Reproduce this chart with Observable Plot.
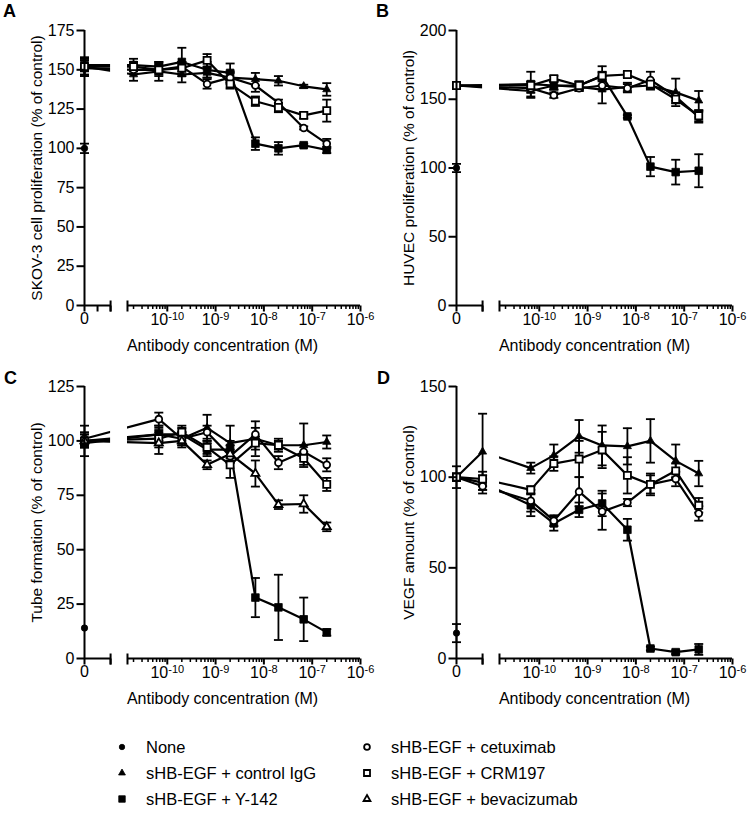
<!DOCTYPE html>
<html><head><meta charset="utf-8">
<script src="https://cdn.jsdelivr.net/npm/d3@7"></script>
<script src="https://cdn.jsdelivr.net/npm/@observablehq/plot@0.6"></script>
<style>
body{margin:0;background:#fff;font-family:"Liberation Sans",Arial,Helvetica,sans-serif;}
#wrap{position:relative;width:747px;height:814px;overflow:hidden;background:#fff;}
.panel{position:absolute;}
.letter{position:absolute;font-weight:bold;font-size:18px;line-height:18px;color:#000;}
.leg{position:absolute;font-size:16.5px;line-height:18px;color:#000;white-space:nowrap;}
.leg svg{position:absolute;overflow:visible;}
</style></head><body><div id="wrap"></div>
<script>
// ---------------- data ----------------
const concA = [2e-11, 6.67e-11, 2e-10, 6.67e-10, 2e-9, 6.67e-9, 2e-8, 6.67e-8, 2e-7];
const concBCD = [6.67e-11, 2e-10, 6.67e-10, 2e-9, 6.67e-9, 2e-8, 6.67e-8, 2e-7];
const lowDoseD = 1e-12; // extra point at end of the linear (zero) segment in panel D

const seriesLabels = {
  none: "None", igg: "sHB-EGF + control IgG", y142: "sHB-EGF + Y-142",
  cetux: "sHB-EGF + cetuximab", crm: "sHB-EGF + CRM197", bev: "sHB-EGF + bevacizumab"
};

// Panel A: SKOV-3 proliferation
const A_zero = {none: [100, 3], igg: [152, 5], y142: [153, 4], cetux: [151, 5], crm: [152, 6]};
const A_igg = [147, 149, 147, 148, 145, 144, 143, 139.5, 137.5];
const A_igg_sd = [4, 6, 5, 3, 4, 4, 3, 1, 4];
const A_y142 = [153, 152, 155, 150, 148, 103, 100, 102, 99];
const A_y142_sd = [4, 3, 9, 5, 6, 4, 4, 1, 2];
const A_crm = [152, 150, 151, 156, 141, 130, 126, 121, 124];
const A_crm_sd = [3, 4, 4, 4, 3, 3, 3, 2, 7];
const A_cetux = [150, 150, 152, 141, 145, 140, 129, 113, 103];
const A_cetux_sd = [3, 3, 3, 3, 3, 4, 2, 1, 3];

// Panel B: HUVEC proliferation
const B_zero = {none: [100, 3], igg: [160, 2], y142: [160, 2], cetux: [160, 2], crm: [160, 2]};
const B_igg = [156, 160, 159, 157, 159, 160, 155, 149];
const B_igg_sd = [5, 3, 3, 10, 3, 3, 10, 7];
const B_y142 = [161, 160, 160, 167, 137.5, 101, 97, 98];
const B_y142_sd = [9, 3, 3, 7, 1, 7, 9, 12];
const B_crm = [160, 165, 160, 167, 168, 161, 150, 138];
const B_crm_sd = [3, 2, 3, 3, 2, 3, 3, 4];
const B_cetux = [158, 153, 158, 160, 158, 164, 152, 137];
const B_cetux_sd = [3, 2, 2, 3, 3, 6, 3, 4];

// Panel C: tube formation
const C_zero = {none: [14, 0], igg: [100, 7], y142: [99, 2], cetux: [101, 3], crm: [100, 3], bev: [100, 3]};
const C_igg = [103, 101, 106, 99, 101, 98, 98, 99.5];
const C_igg_sd = [4, 3, 6, 8, 8, 2, 10, 3];
const C_y142 = [103, 103, 96, 96, 28, 23.5, 18, 12];
const C_y142_sd = [3, 3, 3, 4, 9, 15, 10, 1.5];
const C_cetux = [110, 101, 104, 93, 103, 90, 95, 89];
const C_cetux_sd = [3, 3, 3, 3, 3, 3, 3, 3];
const C_crm = [101, 104, 97, 89, 99, 98, 92, 80];
const C_crm_sd = [4, 3, 3, 6, 3, 3, 3, 3];
const C_bev = [99, 100, 89, 94, 85, 70.7, 71, 60.5];
const C_bev_sd = [5, 3, 2, 4, 6, 2, 4, 2];

// Panel D: VEGF amount
const D_zero = {none: [14, 5], igg: [100, 2], y142: [100, 6], cetux: [100, 2], crm: [100, 2]};
const D_low = {igg: [114, 21], y142: [97, 4], cetux: [95, 4], crm: [99, 4]};
const D_igg = [105, 112, 122.5, 117.5, 117, 120, 109, 102];
const D_igg_sd = [3, 6, 9, 11, 10, 12, 9, 7];
const D_crm = [93, 107.5, 110, 115, 101, 96, 103.5, 84.5];
const D_crm_sd = [2, 4, 10, 10, 10, 5, 4, 4];
const D_cetux = [87, 76, 92, 81, 86, 96, 99, 80];
const D_cetux_sd = [6, 3, 8, 10, 2, 6, 4, 4];
const D_y142 = [84.5, 74.5, 82, 85.5, 71, 5.5, 3.5, 5];
const D_y142_sd = [6, 4, 4, 7, 6, 1, 1, 3];

const yTicksA = [0, 25, 50, 75, 100, 125, 150, 175];
const yTicksB = [0, 50, 100, 150, 200];
const yTicksC = [0, 25, 50, 75, 100, 125];
const yTicksD = [0, 50, 100, 150];
const decadeExps = [-10, -9, -8, -7, -6];
const xTitle = "Antibody concentration (M)";

// ---------------- broken x axis (linear 0..LEFT_MAX | gap | log RIGHT_MIN..RIGHT_MAX) ----------------
const LEFT_MAX = 1e-12, RIGHT_MIN = 1.5e-11, RIGHT_MAX = 1e-6;
const LEFT_SPAN = 0.54, GAP = 0.35; // axis length expressed in decades
const UR = Math.log10(RIGHT_MIN);
const UL = UR - GAP;
const U0 = UL - LEFT_SPAN;
function xu(c) { return c <= LEFT_MAX ? U0 + (c / LEFT_MAX) * LEFT_SPAN : Math.log10(c); }

const minorTicks = [];
for (let e = -11; e <= -7; e++) for (let k = 2; k <= 9; k++) {
  const c = k * Math.pow(10, e);
  if (c > RIGHT_MIN && c < RIGHT_MAX) minorTicks.push(xu(c));
}
const majorTicks = decadeExps.map(e => e);

function buildRows(conc, zero, low, series) {
  const rows = [{s: "none", u: xu(0), v: zero.none[0], sd: zero.none[1]}];
  for (const [name, vals, sds] of series) {
    rows.push({s: name, u: xu(0), v: zero[name][0], sd: zero[name][1]});
    if (low && low[name]) rows.push({s: name, u: xu(lowDoseD), v: low[name][0], sd: low[name][1]});
    conc.forEach((c, i) => rows.push({s: name, u: xu(c), v: vals[i], sd: sds[i]}));
  }
  return rows;
}

const FONT = '"Liberation Sans", Arial, Helvetica, sans-serif';
const FS = 16;
const vline = (a, b) => ({draw(ctx) { ctx.moveTo(0, a); ctx.lineTo(0, b); }});
const hline = (a, b) => ({draw(ctx) { ctx.moveTo(a, 0); ctx.lineTo(b, 0); }});

const styles = {
  none:  {symbol: "circle",   r: 3.2, fill: "black"},
  igg:   {symbol: "triangle", r: 3.0, fill: "black"},
  y142:  {symbol: "square",   r: 4.3, fill: "black"},
  cetux: {symbol: "circle",   r: 3.4, fill: "white"},
  crm:   {symbol: "square",   r: 4.0, fill: "white"},
  bev:   {symbol: "triangle", r: 3.0, fill: "white"}
};

function panel({rows, yMax, yTicks, yTitle, leftTicks, left, top, bottom}) {
  const H = 360;
  const lineRows = rows.filter(d => d.s !== "none");
  const marks = [
    Plot.line(lineRows, {x: "u", y: "v", z: "s", stroke: "black", strokeWidth: 2.2}),
    Plot.rect([{a: UL, b: UR}], {x1: "a", x2: "b", fill: "white"}),
    Plot.ruleX(rows.filter(d => d.sd > 0), {x: "u", y1: d => d.v - d.sd, y2: d => d.v + d.sd, stroke: "black", strokeWidth: 1.8}),
    Plot.dot(rows.filter(d => d.sd > 0), {x: "u", y: d => d.v + d.sd, symbol: hline(-4.5, 4.5), stroke: "black", strokeWidth: 1.8}),
    Plot.dot(rows.filter(d => d.sd > 0), {x: "u", y: d => d.v - d.sd, symbol: hline(-4.5, 4.5), stroke: "black", strokeWidth: 1.8})
  ];
  for (const s of ["none", "igg", "y142", "cetux", "crm", "bev"]) {
    const st = styles[s];
    const data = rows.filter(d => d.s === s);
    if (!data.length) continue;
    marks.push(Plot.dot(data, {x: "u", y: "v", symbol: st.symbol, r: st.r, fill: st.fill,
      stroke: "black", strokeWidth: st.fill === "white" ? 1.8 : 0.8}));
  }
  marks.push(
    // axis lines
    Plot.ruleY([{a: U0, b: UL}, {a: UR, b: Math.log10(RIGHT_MAX)}], {y: () => 0, x1: "a", x2: "b", stroke: "black", strokeWidth: 2}),
    Plot.ruleX([U0], {x: d => d, stroke: "black", strokeWidth: 2}),
    // x ticks
    Plot.dot(leftTicks, {x: d => d, frameAnchor: "bottom", symbol: vline(0, 6), stroke: "black", strokeWidth: 2}),
    Plot.dot([UL, UR], {x: d => d, frameAnchor: "bottom", symbol: vline(-5, 6), stroke: "black", strokeWidth: 2}),
    Plot.dot(majorTicks, {x: d => d, frameAnchor: "bottom", symbol: vline(0, 6), stroke: "black", strokeWidth: 2}),
    Plot.dot(minorTicks, {x: d => d, frameAnchor: "bottom", symbol: vline(0, 3.5), stroke: "black", strokeWidth: 1.5}),
    // x tick labels
    Plot.text([U0], {x: d => d, frameAnchor: "bottom", dy: 13, lineAnchor: "middle", textAnchor: "middle", text: () => "0", fontSize: FS}),
    Plot.text(decadeExps, {x: d => d, frameAnchor: "bottom", dy: 14, lineAnchor: "middle", textAnchor: "middle", text: d => "10^" + d, fontSize: FS}),
    Plot.text([xTitle], {frameAnchor: "bottom", dy: 40, lineAnchor: "middle", textAnchor: "middle", text: d => d, fontSize: FS}),
    // y ticks + labels + title
    Plot.dot(yTicks, {y: d => d, frameAnchor: "left", symbol: hline(-8, 0), stroke: "black", strokeWidth: 2}),
    Plot.text(yTicks, {y: d => d, frameAnchor: "left", dx: -10, textAnchor: "end", lineAnchor: "middle", text: d => String(d), fontSize: FS}),
    Plot.text([yTitle], {frameAnchor: "left", dx: -47, rotate: -90, lineAnchor: "middle", textAnchor: "middle", text: d => d, fontSize: 15.5})
  );
  const fig = Plot.plot({
    width: 373, height: H,
    marginLeft: 84, marginRight: 13, marginTop: 30, marginBottom: H - bottom,
    x: {type: "linear", domain: [U0, Math.log10(RIGHT_MAX)], axis: null},
    y: {type: "linear", domain: [0, yMax], axis: null},
    style: {fontFamily: FONT, fontSize: FS + "px", color: "black", background: "transparent", overflow: "visible"},
    marks
  });
  d3.select(fig).selectAll("text").each(function () {
    const s = this.textContent;
    if (s.indexOf("^") < 0) return;
    const [b, e] = s.split("^");
    const t = d3.select(this);
    t.text(b);
    t.append("tspan").attr("dy", "-0.45em").attr("font-size", "11px").text(e);
  });
  fig.classList.add("panel");
  fig.style.left = left + "px";
  fig.style.top = top + "px";
  return fig;
}

const wrap = document.getElementById("wrap");
const leftA = [xu(0), xu(0.5e-12), xu(1e-12)];
const leftOther = [xu(0), xu(1e-12)];

wrap.appendChild(panel({
  rows: buildRows(concA, A_zero, null, [["igg", A_igg, A_igg_sd], ["y142", A_y142, A_y142_sd], ["crm", A_crm, A_crm_sd], ["cetux", A_cetux, A_cetux_sd]]),
  yMax: 175, yTicks: yTicksA, yTitle: "SKOV-3 cell proliferation (% of control)", leftTicks: leftA, left: 0, top: 0, bottom: 305
}));
wrap.appendChild(panel({
  rows: buildRows(concBCD, B_zero, null, [["igg", B_igg, B_igg_sd], ["y142", B_y142, B_y142_sd], ["crm", B_crm, B_crm_sd], ["cetux", B_cetux, B_cetux_sd]]),
  yMax: 200, yTicks: yTicksB, yTitle: "HUVEC proliferation (% of control)", leftTicks: leftOther, left: 372, top: 0, bottom: 305
}));
wrap.appendChild(panel({
  rows: buildRows(concBCD, C_zero, null, [["igg", C_igg, C_igg_sd], ["y142", C_y142, C_y142_sd], ["cetux", C_cetux, C_cetux_sd], ["crm", C_crm, C_crm_sd], ["bev", C_bev, C_bev_sd]]),
  yMax: 125, yTicks: yTicksC, yTitle: "Tube formation (% of control)", leftTicks: leftOther, left: 0, top: 356, bottom: 302
}));
wrap.appendChild(panel({
  rows: buildRows(concBCD, D_zero, D_low, [["igg", D_igg, D_igg_sd], ["crm", D_crm, D_crm_sd], ["cetux", D_cetux, D_cetux_sd], ["y142", D_y142, D_y142_sd]]),
  yMax: 150, yTicks: yTicksD, yTitle: "VEGF amount (% of control)", leftTicks: leftOther, left: 372, top: 356, bottom: 302
}));

// panel letters
[["A", 3, 2], ["B", 376, 2], ["C", 4, 369], ["D", 377, 369]].forEach(([t, x, y]) => {
  const d = document.createElement("div");
  d.className = "letter"; d.textContent = t; d.style.left = x + "px"; d.style.top = y + "px";
  wrap.appendChild(d);
});

// legend
const legendOrder = [["none", 0, 0], ["igg", 0, 1], ["y142", 0, 2], ["cetux", 1, 0], ["crm", 1, 1], ["bev", 1, 2]];
const legCols = [122, 367], legRows = [747, 773, 799];
const shapePath = {
  circle: r => d3.symbol(d3.symbolCircle, Math.PI * r * r)(),
  square: r => d3.symbol(d3.symbolSquare, Math.PI * r * r)(),
  triangle: r => d3.symbol(d3.symbolTriangle, Math.PI * r * r)()
};
for (const [s, col, row] of legendOrder) {
  const st = styles[s];
  const item = document.createElement("div");
  item.className = "leg";
  item.style.left = legCols[col] + "px";
  item.style.top = (legRows[row] - 9) + "px";
  const r = st.r * 0.85;
  item.innerHTML = `<svg width="1" height="1" style="left:0;top:9px"><path d="${shapePath[st.symbol](r)}" fill="${st.fill}" stroke="black" stroke-width="${st.fill === "white" ? 1.8 : 0.8}"/></svg><span style="position:absolute;left:24px;top:0">${seriesLabels[s]}</span>`;
  wrap.appendChild(item);
}
</script></body></html>
